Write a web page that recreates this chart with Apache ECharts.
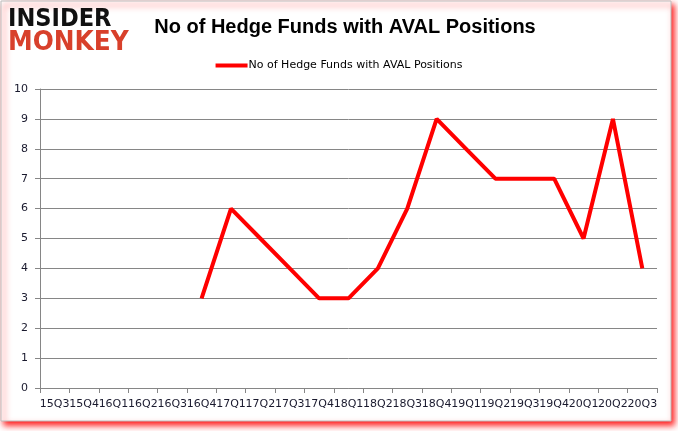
<!DOCTYPE html>
<html><head><meta charset="utf-8">
<script src="https://cdn.jsdelivr.net/npm/echarts@6/dist/echarts.min.js"></script>
<style>html,body{margin:0;padding:0;background:#fff}#c{width:678px;height:431px}</style>
</head><body><div id="c"></div>
<script>
const categories = ['15Q3','15Q4','16Q1','16Q2','16Q3','16Q4','17Q1','17Q2','17Q3','17Q4','18Q1','18Q2','18Q3','18Q4','19Q1','19Q2','19Q3','19Q4','20Q1','20Q2','20Q3'];
const hedgeFunds = [null,null,null,null,null,3,6,5,4,3,3,4,6,9,8,7,7,7,5,9,4];
const yTicks = [0,1,2,3,4,5,6,7,8,9,10];
const titleText = 'No of Hedge Funds with AVAL Positions';
const seriesName = 'No of Hedge Funds with AVAL Positions';

const chart = echarts.init(document.getElementById('c'));
chart.setOption({
  animation: false,
  backgroundColor: '#fff',
  title: {
    text: titleText, left: 340, top: 12, textAlign: 'center',
    textStyle: {fontFamily: 'Liberation Sans', fontWeight: 'bold', fontSize: 20, color: '#000'}
  },
  legend: {
    data: [seriesName], top: 55, left: 'center', itemWidth: 32, itemHeight: 4, itemGap: 0,
    icon: 'rect',
    textStyle: {fontFamily: 'DejaVu Sans', fontSize: 11, color: '#000', padding: [0,0,0,-4]}
  },
  graphic: [
    {type: 'rect', shape: {x: 1, y: 1, width: 670, height: 420}, z: -10,
     style: {fill: '#fff', stroke: '#bdbdbd', lineWidth: 1, shadowColor: 'rgba(255,0,0,0.9)', shadowBlur: 6, shadowOffsetX: 3, shadowOffsetY: 4}},
    {type: 'text', x: 8, y: 8, scaleX: 0.94, style: {text: 'INSIDER', fontFamily: 'DejaVu Sans', fontWeight: 'bold', fontSize: 24, fill: '#111'}},
    {type: 'text', x: 8, y: 29, scaleX: 0.92, style: {text: 'MONKEY', fontFamily: 'DejaVu Sans', fontWeight: 'bold', fontSize: 27, fill: '#d8402b'}}
  ],
  grid: {left: 40, right: 21, top: 89, bottom: 43, containLabel: false},
  xAxis: {
    type: 'category', data: categories, boundaryGap: true,
    axisLine: {lineStyle: {color: '#868686'}},
    axisTick: {show: true, alignWithLabel: false, length: 5, lineStyle: {color: '#868686'}},
    axisLabel: {interval: 0, fontFamily: 'DejaVu Sans', fontSize: 11, color: '#1a1a2e', margin: 11}
  },
  yAxis: {
    type: 'value', min: 0, max: 10, interval: 1,
    axisLine: {show: true, lineStyle: {color: '#868686'}},
    axisTick: {show: true, length: 5, lineStyle: {color: '#868686'}},
    splitLine: {lineStyle: {color: '#868686'}},
    axisLabel: {fontFamily: 'DejaVu Sans', fontSize: 11, color: '#1a1a2e', margin: 12,
      formatter: v => yTicks.includes(v) ? String(v) : ''}
  },
  series: [{
    name: seriesName, type: 'line', data: hedgeFunds, showSymbol: false, symbol: 'none',
    connectNulls: false, lineStyle: {color: '#ff0000', width: 4}, itemStyle: {color: '#ff0000'}
  }]
});
</script></body></html>
